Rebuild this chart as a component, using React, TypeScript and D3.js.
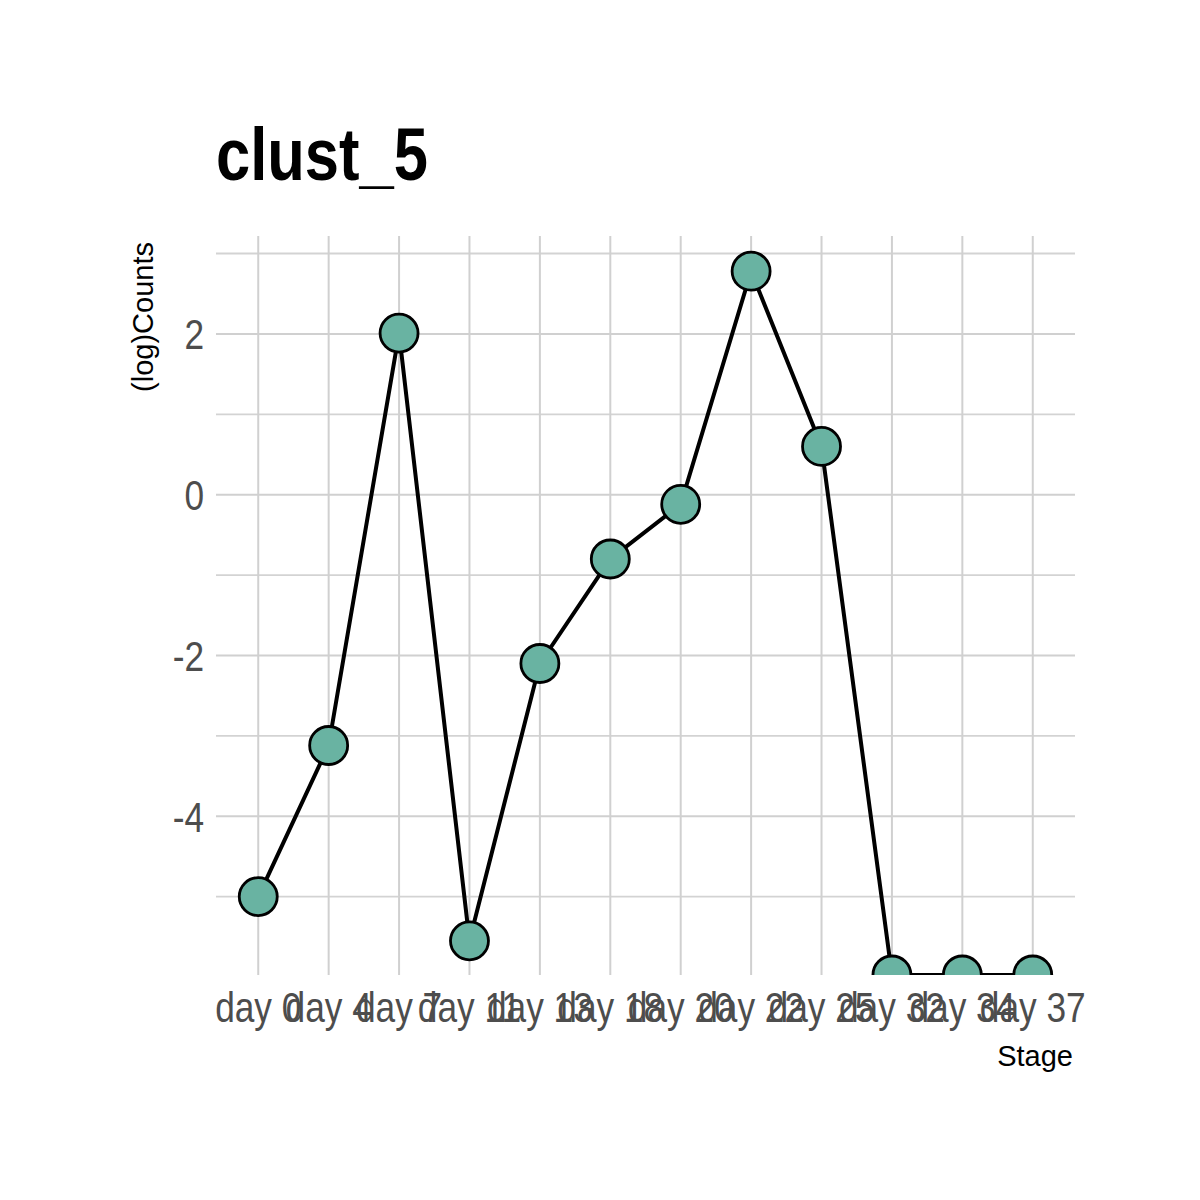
import React, { useRef, useEffect } from 'react';
import * as d3 from 'd3';

const stages = ['day 0', 'day 4', 'day 7', 'day 11', 'day 13', 'day 18', 'day 20', 'day 22', 'day 25', 'day 32', 'day 34', 'day 37'];
const counts = [-5.0, -3.12, 2.01, -5.55, -2.1, -0.8, -0.12, 2.78, 0.6, -5.975, -5.975, -5.975];
const majorTicks = [-4, -2, 0, 2];
const minorTicks = [-5, -3, -1, 1, 3];

const App = () => {
  const svgRef = useRef<SVGSVGElement | null>(null);

  useEffect(() => {
    const svg = d3.select(svgRef.current);
    svg.selectAll('*').remove();

    const left = 216, right = 1075, top = 236, bottom = 975;
    const font = '"Liberation Sans", Arial, sans-serif';
    const squeeze = 0.82; // narrow look of the original font

    const x = d3.scalePoint<string>().domain(stages).range([left, right]).padding(0.6);
    const lo = d3.min(counts) as number;
    const hi = d3.max(counts) as number;
    const y = d3.scaleLinear().domain([lo, hi + (hi - lo) * 0.05]).range([bottom, top]);

    svg.append('defs').append('clipPath').attr('id', 'panel')
      .append('rect').attr('x', left).attr('y', top).attr('width', right - left).attr('height', bottom - top);

    const grid = svg.append('g');
    grid.selectAll('.minor').data(minorTicks).enter().append('line')
      .attr('x1', left).attr('x2', right)
      .attr('y1', d => y(d)).attr('y2', d => y(d))
      .attr('stroke', '#d3d3d3').attr('stroke-width', 1.8);
    grid.selectAll('.major').data(majorTicks).enter().append('line')
      .attr('x1', left).attr('x2', right)
      .attr('y1', d => y(d)).attr('y2', d => y(d))
      .attr('stroke', '#d0d0d0').attr('stroke-width', 2);
    grid.selectAll('.vert').data(stages).enter().append('line')
      .attr('x1', d => x(d) as number).attr('x2', d => x(d) as number)
      .attr('y1', top).attr('y2', bottom)
      .attr('stroke', '#d0d0d0').attr('stroke-width', 2);

    const plot = svg.append('g').attr('clip-path', 'url(#panel)');
    const line = d3.line<number>()
      .x((d, i) => x(stages[i]) as number)
      .y(d => y(d));
    plot.append('path').datum(counts)
      .attr('d', line)
      .attr('fill', 'none').attr('stroke', '#000').attr('stroke-width', 4);
    plot.selectAll('circle').data(counts).enter().append('circle')
      .attr('cx', (d, i) => x(stages[i]) as number)
      .attr('cy', d => y(d))
      .attr('r', 19)
      .attr('fill', '#69b3a2')
      .attr('stroke', '#000').attr('stroke-width', 2.8);

    // tick labels, squeezed horizontally
    svg.append('g').selectAll('text').data(stages).enter().append('text')
      .attr('transform', d => `translate(${x(d)},1022) scale(${squeeze},1)`)
      .attr('text-anchor', 'middle')
      .attr('font-family', font).attr('font-size', 43).attr('fill', '#4d4d4d')
      .text(d => d);
    svg.append('g').selectAll('text').data(majorTicks).enter().append('text')
      .attr('transform', d => `translate(204,${y(d)}) scale(${squeeze},1)`)
      .attr('dy', '0.36em')
      .attr('text-anchor', 'end')
      .attr('font-family', font).attr('font-size', 43).attr('fill', '#4d4d4d')
      .text(d => String(d));

    svg.append('text')
      .attr('x', right - 2).attr('y', 1066)
      .attr('text-anchor', 'end')
      .attr('font-family', font).attr('font-size', 29).attr('fill', '#000')
      .text('Stage');
    svg.append('text')
      .attr('transform', `translate(${153},${top + 6}) rotate(-90)`)
      .attr('text-anchor', 'end')
      .attr('font-family', font).attr('font-size', 29).attr('fill', '#000')
      .text('(log)Counts');

    svg.append('text')
      .attr('transform', `translate(216,180) scale(${squeeze},1)`)
      .attr('font-family', font).attr('font-size', 75).attr('font-weight', 'bold').attr('fill', '#000')
      .text('clust_5');
  }, []);

  return (
    <svg ref={svgRef} width={1200} height={1200}
      style={{ position: 'absolute', left: 0, top: 0, background: '#fff' }} />
  );
};

export default App;
